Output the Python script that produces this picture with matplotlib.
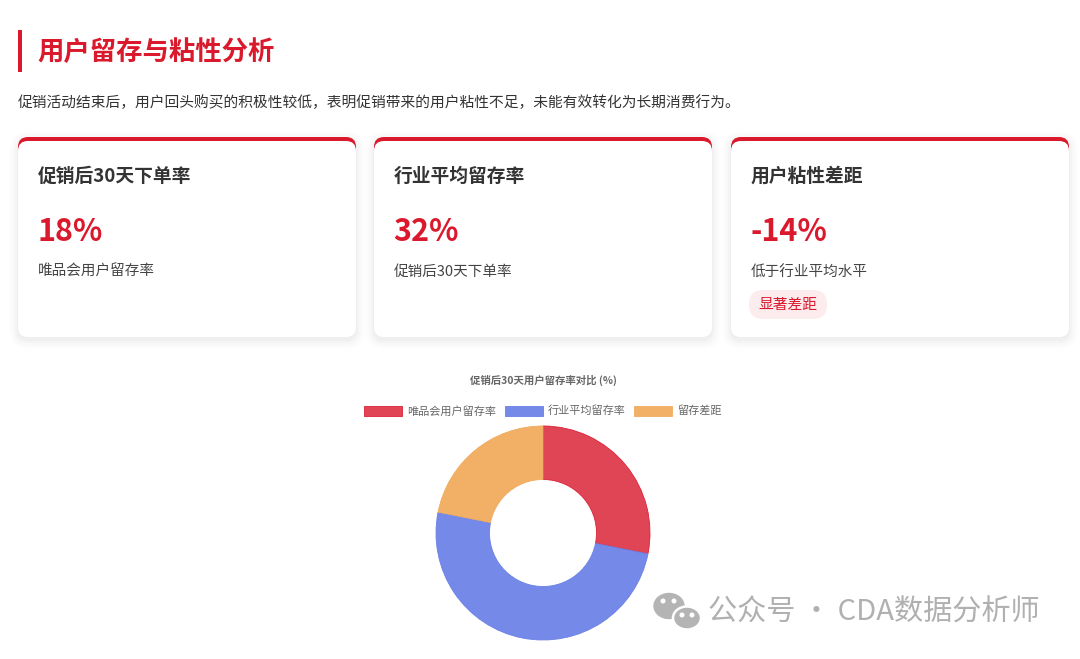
import matplotlib
matplotlib.use("Agg")
import matplotlib.pyplot as plt
from matplotlib.patches import FancyBboxPatch, Rectangle, Ellipse, Circle

plt.rcParams["font.family"] = ["Noto Sans CJK SC", "DejaVu Sans"]

# ── data ─────────────────────────────────────────────
page_title = "用户留存与粘性分析"
page_subtitle = "促销活动结束后，用户回头购买的积极性较低，表明促销带来的用户粘性不足，未能有效转化为长期消费行为。"

card_titles = ["促销后30天下单率", "行业平均留存率", "用户粘性差距"]
card_values = ["18%", "32%", "-14%"]
card_descs = ["唯品会用户留存率", "促销后30天下单率", "低于行业平均水平"]
badge_text = "显著差距"

chart_title = "促销后30天用户留存率对比 (%)"
categories = ["唯品会用户留存率", "行业平均留存率", "留存差距"]
values = [18, 32, 14]
slice_colors = ["#e04556", "#7589e8", "#f2b066"]
slice_edges = ["#dc2035", "#6a7fe6", "#f0ab5e"]

watermark = "公众号 · CDA数据分析师"

RED = "#da1a2c"
W, H = 1080, 659

fig = plt.figure(figsize=(W / 100, H / 100), dpi=100)
ax = fig.add_axes([0, 0, 1, 1])
ax.set_xlim(0, W)
ax.set_ylim(H, 0)
ax.axis("off")

# ── header ───────────────────────────────────────────
ax.add_patch(Rectangle((18, 30), 4, 42, color=RED, lw=0))
ax.text(37, 52, page_title, fontsize=19, fontweight="bold", color=RED,
        va="center", ha="left")
ax.text(18, 103, page_subtitle, fontsize=10.6, color="#333333",
        va="center", ha="left")

# ── cards ────────────────────────────────────────────
card_x = [18, 374, 731]
card_w, card_y, card_h = 338, 137, 200
for i, x0 in enumerate(card_x):
    # soft shadow
    for k, a in enumerate([0.018, 0.014, 0.011, 0.008, 0.006]):
        pad = 1 + k * 2
        ax.add_patch(FancyBboxPatch((x0 - pad, card_y - pad + 3), card_w + 2 * pad,
                                    card_h + 2 * pad,
                                    boxstyle="round,pad=0,rounding_size=%d" % (10 + pad),
                                    fc="black", ec="none", alpha=a, zorder=1))
    # red top border
    ax.add_patch(FancyBboxPatch((x0, card_y), card_w, 30,
                                boxstyle="round,pad=0,rounding_size=10",
                                fc=RED, ec="none", zorder=2))
    ax.add_patch(FancyBboxPatch((x0, card_y + 4), card_w, card_h - 4,
                                boxstyle="round,pad=0,rounding_size=10",
                                fc="white", ec="none", zorder=3))
    tx = x0 + 20
    ax.text(tx, 176, card_titles[i], fontsize=13.5, fontweight="bold",
            color="#333333", va="center", ha="left", zorder=4)
    ax.text(tx - 1, 232, card_values[i], fontsize=22, fontweight="bold",
            color=RED, va="center", ha="left", zorder=4)
    ax.text(tx, 272, card_descs[i], fontsize=10.5, color="#444444",
            va="center", ha="left", zorder=4)

# badge on last card
bx = card_x[2] + 18
ax.add_patch(FancyBboxPatch((bx, 290), 78, 29,
                            boxstyle="round,pad=0,rounding_size=14",
                            fc="#fdecee", ec="none", zorder=4))
ax.text(bx + 39, 305, badge_text, fontsize=10.6, color=RED,
        va="center", ha="center", zorder=5)

# ── doughnut chart ───────────────────────────────────
ax.text(543, 380, chart_title, fontsize=7.5, fontweight="bold",
        color="#666666", va="center", ha="center")

cx, cy, r = 543, 533, 107
pax = fig.add_axes([(cx - r) / W, 1 - (cy + r) / H, 2 * r / W, 2 * r / H])
wedges, _ = pax.pie(values, colors=slice_colors, startangle=90,
                    counterclock=False, radius=1,
                    wedgeprops=dict(width=0.5, linewidth=0.6))
for wdg, ec in zip(wedges, slice_edges):
    wdg.set_edgecolor(ec)
pax.set_xlim(-1, 1)
pax.set_ylim(-1, 1)
pax.set_aspect("equal")
pax.axis("off")

leg = pax.legend(wedges, categories, loc="center",
                 bbox_to_anchor=(543 / W, 1 - 411 / H),
                 bbox_transform=fig.transFigure, ncol=3, frameon=False,
                 fontsize=8, handlelength=3.4, handleheight=1.0,
                 handletextpad=0.45, columnspacing=0.8)
for t in leg.get_texts():
    t.set_color("#666666")

# ── watermark ────────────────────────────────────────
ax.add_patch(Ellipse((669, 606), 30, 25, color="#b4b4b4", zorder=6))
ax.add_patch(Ellipse((687, 618), 28, 23, fc="#b4b4b4", ec="white",
                     lw=1.8, zorder=7))
for ex, ey, z in [(663, 601, 8), (674, 601, 8), (682, 615, 8), (692, 615, 8)]:
    ax.add_patch(Circle((ex, ey), 1.8, color="white", zorder=z))
ax.text(708, 613, watermark, fontsize=21, color="#b0b0b0",
        va="center", ha="left", zorder=6)

fig.savefig("out.png", dpi=100, facecolor="white")
